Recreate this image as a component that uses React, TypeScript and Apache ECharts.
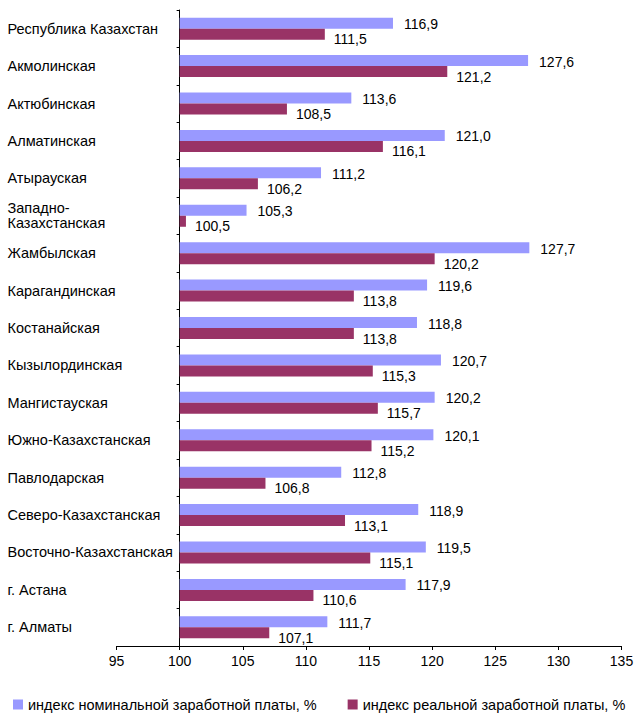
import React, { useEffect, useRef } from "react";
import * as echarts from "echarts";

const categories = [
  "Республика Казахстан",
  "Акмолинская",
  "Актюбинская",
  "Алматинская",
  "Атырауская",
  "Западно-\nКазахстанская",
  "Жамбылская",
  "Карагандинская",
  "Костанайская",
  "Кызылординская",
  "Мангистауская",
  "Южно-Казахстанская",
  "Павлодарская",
  "Северо-Казахстанская",
  "Восточно-Казахстанская",
  "г. Астана",
  "г. Алматы",
];

const nominal = [116.9, 127.6, 113.6, 121.0, 111.2, 105.3, 127.7, 119.6, 118.8, 120.7, 120.2, 120.1, 112.8, 118.9, 119.5, 117.9, 111.7];
const real = [111.5, 121.2, 108.5, 116.1, 106.2, 100.5, 120.2, 113.8, 113.8, 115.3, 115.7, 115.2, 106.8, 113.1, 115.1, 110.6, 107.1];

const seriesNames = ["индекс номинальной заработной платы, %", "индекс реальной заработной платы, %"];

// bars grow from the index base of 100
const BASE = 100;
const xTicks = { min: 95, max: 135, step: 5 };

const fmt = (v: number) => v.toFixed(1).replace(".", ",");
const FONT = "'Liberation Sans', Arial, sans-serif";

export default function App() {
  const ref = useRef<HTMLDivElement>(null);
  useEffect(() => {
    if (!ref.current) return;
    const chart = echarts.init(ref.current, undefined, { renderer: "svg" });
    chart.setOption({
      animation: false,
      textStyle: { fontFamily: FONT },
      grid: { left: 116.5, right: 14.5, top: 10, bottom: 73, containLabel: false, outerBoundsMode: "none" },
      legend: {
        top: 697,
        left: 8,
        padding: [0, 5, 0, 5],
        itemWidth: 10,
        itemHeight: 10,
        itemGap: 31,
        icon: "rect",
        textStyle: { fontFamily: FONT, fontSize: 14.5, color: "#000" },
        data: seriesNames,
      },
      xAxis: {
        type: "value",
        min: xTicks.min - BASE,
        max: xTicks.max - BASE,
        interval: xTicks.step,
        splitLine: { show: false },
        axisLine: { show: true, onZero: false, lineStyle: { color: "#000", width: 1 } },
        axisTick: { show: true, length: 4, lineStyle: { color: "#000" } },
        axisLabel: {
          color: "#000",
          fontSize: 14,
          fontFamily: FONT,
          margin: 8,
          formatter: (v: number) => String(v + BASE),
        },
      },
      yAxis: {
        type: "category",
        data: categories,
        inverse: true,
        axisLine: { show: true, onZero: true, lineStyle: { color: "#000", width: 1 } },
        axisTick: { show: true, length: 3, lineStyle: { color: "#000" } },
        axisLabel: {
          color: "#000",
          fontSize: 14.5,
          fontFamily: FONT,
          align: "left",
          margin: 109,
          lineHeight: 15,
        },
      },
      series: [
        {
          name: seriesNames[0],
          type: "bar",
          data: nominal.map((v) => v - BASE),
          barWidth: 11,
          barGap: "0%",
          itemStyle: { color: "#9999ff" },
          label: {
            show: true,
            position: "right",
            distance: 11,
            offset: [0, 1],
            color: "#000",
            fontSize: 14,
            fontFamily: FONT,
            formatter: (p: any) => fmt(nominal[p.dataIndex]),
          },
        },
        {
          name: seriesNames[1],
          type: "bar",
          data: real.map((v) => v - BASE),
          barWidth: 11,
          barGap: "0%",
          itemStyle: { color: "#993366" },
          label: {
            show: true,
            position: "right",
            distance: 9,
            offset: [0, 5],
            color: "#000",
            fontSize: 14,
            fontFamily: FONT,
            formatter: (p: any) => fmt(real[p.dataIndex]),
          },
        },
      ],
    });
    return () => chart.dispose();
  }, []);
  return <div ref={ref} style={{ width: 636, height: 719, position: "absolute", left: 0, top: 0 }} />;
}
